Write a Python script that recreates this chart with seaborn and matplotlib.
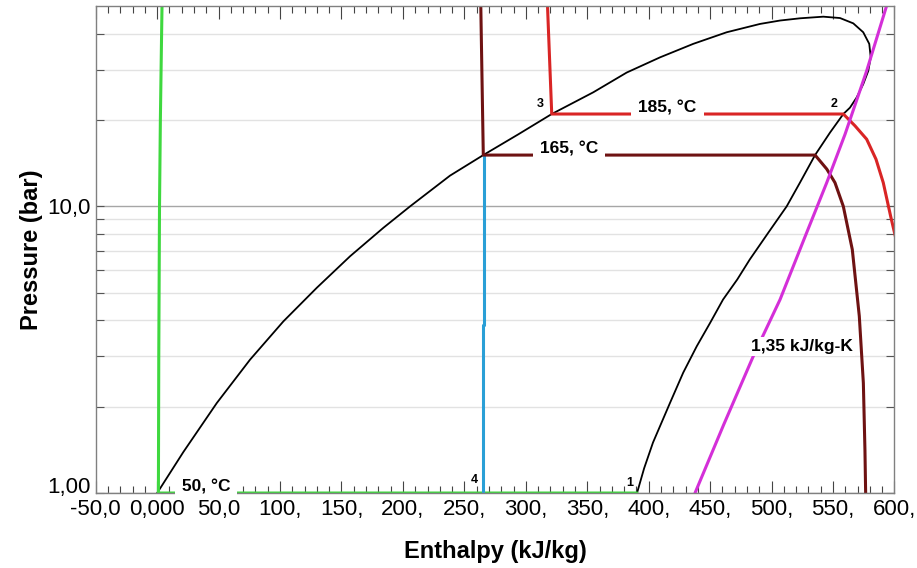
import matplotlib
matplotlib.use('Agg')
import matplotlib.pyplot as plt
import seaborn as sns
from matplotlib.ticker import MultipleLocator, NullFormatter

# saturation dome (enthalpy kJ/kg, pressure bar)
dome_h = [0, 21.3, 48.5, 75.6, 102.7, 129.9, 157.0, 184.1, 205.8, 238.3,
          265.4, 294, 321.1, 354.9, 382.1, 409.2, 436.3, 463.5, 490.6, 506.9,
          523.1, 542.1, 555.7, 566.5, 574.6, 579.5, 580.7, 578.7, 574.6, 569.3,
          563.8, 558.4, 547.6, 535.4, 523.1, 512.3, 497.3, 482.3, 472.1, 460.5,
          450.1, 439.1, 428.1, 417.3, 403.5, 396.3, 390.5]
dome_p = [1.0, 1.39, 2.06, 2.92, 3.97, 5.20, 6.70, 8.42, 10.0, 12.8,
          15.1, 17.85, 21.0, 25.0, 29.3, 33.1, 36.9, 40.5, 43.3, 44.5,
          45.3, 45.9, 45.4, 43.5, 40.5, 36.9, 33.1, 29.7, 26.7, 24.0,
          22.1, 21.0, 18.1, 15.1, 12.1, 10.0, 8.09, 6.53, 5.56, 4.73,
          3.93, 3.25, 2.63, 2.06, 1.50, 1.22, 1.0]

# isotherms
t50_h = [4.0, 3.4, 2.6, 1.9, 1.3, 1.0, 390.5]
t50_p = [52, 35, 20, 10, 3, 1.0, 1.0]
t165_h = [263.3, 265.4, 535.4, 544.9, 551.6, 558.4, 565.7, 571.4, 574.7, 576.0, 576.6]
t165_p = [52, 15.1, 15.1, 13.5, 12.1, 10.0, 7.07, 4.14, 2.42, 1.41, 0.98]
t185_h = [317.5, 321.1, 558.4, 567.9, 577.4, 585.0, 590.9, 597.0, 602.5]
t185_p = [52, 21.0, 21.0, 19.1, 17.15, 14.6, 12.1, 9.2, 7.3]

# expansion valve (blue)
valve_h = [265.0, 265.0, 265.6, 265.6]
valve_p = [1.0, 3.87, 3.87, 15.1]

# isentrope 1,35 kJ/kg-K
s_h = [437.7, 461.0, 485.1, 506.9, 526.0, 544.9, 559.8, 577.4, 593.7]
s_p = [1.0, 1.73, 3.0, 4.73, 7.6, 12.1, 17.85, 29.7, 50.2]

x_ticks = list(range(-50, 601, 50))
x_labels = ['-50,0', '0,000', '50,0'] + [f'{v},' for v in range(100, 601, 50)]
y_ticks = [1, 10]
y_labels = ['1,00', '10,0']
y_minor = [2, 3, 4, 5, 6, 7, 8, 9, 20, 30, 40]

sns.set_style('white')
plt.rcParams['font.family'] = ['Liberation Sans', 'DejaVu Sans']
plt.rcParams.update({'text.color': 'black', 'axes.labelcolor': 'black',
                     'xtick.labelcolor': 'black', 'ytick.labelcolor': 'black'})

fig = plt.figure(figsize=(9.17, 5.68), dpi=100)
ax = fig.add_axes([0.1044, 0.1320, 0.8710, 0.8574])

kw = dict(sort=False, estimator=None, ax=ax, legend=False)
sns.lineplot(x=dome_h, y=dome_p, color='black', lw=1.3, **kw)
sns.lineplot(x=t50_h, y=t50_p, color='#3fd83f', lw=2.2, **kw)
sns.lineplot(x=valve_h, y=valve_p, color='#2a9fd6', lw=2.2, **kw)
sns.lineplot(x=t165_h, y=t165_p, color='#6e1212', lw=2.2, **kw)
sns.lineplot(x=t185_h, y=t185_p, color='#d92525', lw=2.2, **kw)
sns.lineplot(x=s_h, y=s_p, color='#d42fd8', lw=2.2, **kw)

ax.set_yscale('log')
ax.set_xlim(-50, 600)
ax.set_ylim(1, 50)

ax.set_xticks(x_ticks, labels=x_labels)
ax.xaxis.set_minor_locator(MultipleLocator(10))
ax.set_yticks(y_ticks, labels=y_labels)
ax.set_yticks(y_minor, minor=True)
ax.yaxis.set_minor_formatter(NullFormatter())
# lift "1,00" a little so it sits above "-50,0"
ax.get_yticklabels()[0].set_va('baseline')

ax.tick_params(axis='x', which='both', direction='in', top=True, bottom=True,
               labelsize=16, pad=4, color='#444444', width=0.8)
ax.tick_params(axis='x', which='major', length=9)
ax.tick_params(axis='x', which='minor', length=5)
ax.tick_params(axis='y', which='both', direction='in', left=True, right=True,
               labelsize=16, pad=4, color='#555555', width=0.8, length=6)

ax.set_axisbelow(True)
ax.yaxis.grid(True, which='minor', color='#e2e2e2', lw=1)
ax.yaxis.grid(True, which='major', color='#a6a6a6', lw=1)
ax.xaxis.grid(False)
for sp in ax.spines.values():
    sp.set_color('#808080')
    sp.set_linewidth(1)

box = dict(boxstyle='square,pad=0.12', fc='white', ec='none')
for txt, h, p in [('185, °C', 415.3, 21.0), ('165, °C', 335.1, 15.1), ('50, °C', 39.6, 1.0)]:
    ax.annotate(f' {txt} ', (h, p), xytext=(0, 0.8), textcoords='offset points',
                ha='center', va='baseline', fontsize=12.5, fontweight='bold',
                bbox=box, zorder=10, annotation_clip=False)
ax.text(525, 3.25, '1,35 kJ/kg-K', ha='center', va='center', fontsize=12.5,
        fontweight='bold', bbox=dict(boxstyle='square,pad=0.12', fc='white', ec='none'),
        zorder=10)

for txt, h, p in [('3', 311.6, 22.7), ('2', 550.7, 22.7), ('4', 258.1, 1.11), ('1', 384.2, 1.086)]:
    ax.text(h, p, txt, ha='center', va='center', fontsize=9, fontweight='bold', zorder=10)

ax.set_xlabel('Enthalpy (kJ/kg)', fontsize=17, fontweight='bold', labelpad=15)
ax.set_ylabel('Pressure (bar)', fontsize=17, fontweight='bold', labelpad=3)

fig.savefig('out.png', dpi=100)
